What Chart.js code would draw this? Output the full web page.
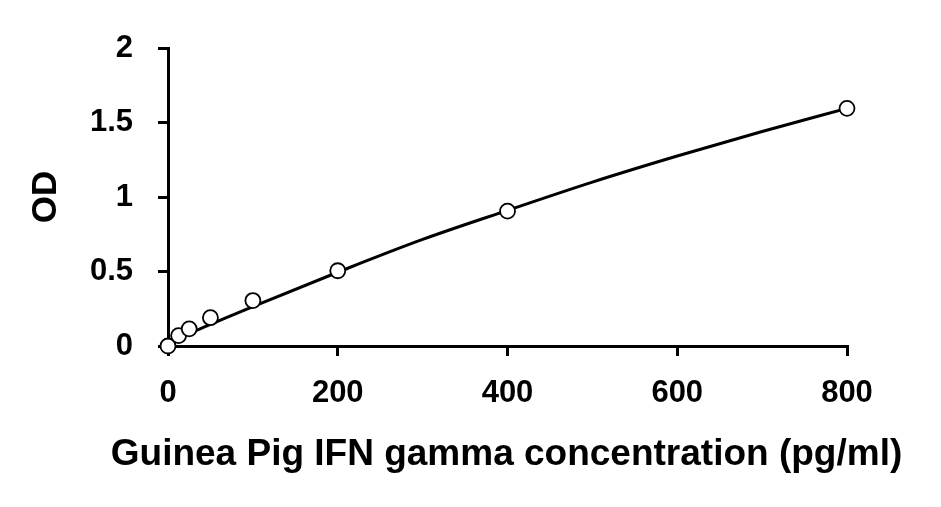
<!DOCTYPE html>
<html>
<head>
<meta charset="utf-8">
<script src="https://cdn.jsdelivr.net/npm/chart.js@4"></script>
<style>
html,body{margin:0;padding:0;background:#fff;}
#c{display:block;}
</style>
</head>
<body>
<canvas id="c" width="941" height="507"></canvas>
<script>
// Standard points (concentration pg/ml, OD)
const concentrations = [0, 12.5, 25, 50, 100, 200, 400, 800];
const odValues = [0.0, 0.07, 0.115, 0.19, 0.305, 0.505, 0.905, 1.595];
// Fitted curve
const curveX = [0, 12.5, 25, 50, 100, 200, 300, 400, 500, 600, 700, 800];
const curveY = [0.03, 0.06, 0.085, 0.145, 0.265, 0.495, 0.715, 0.91, 1.10, 1.275, 1.44, 1.595];
const xTicks = [0, 200, 400, 600, 800];
const yTicks = [0, 0.5, 1, 1.5, 2];

const FONT = "'Liberation Sans', Arial, sans-serif";

new Chart(document.getElementById('c'), {
  type: 'scatter',
  data: {
    datasets: [
      {
        label: 'Standards',
        data: concentrations.map((x, i) => ({x: x, y: odValues[i]})),
        pointRadius: 7.5,
        pointBorderWidth: 1.8,
        pointBorderColor: '#000',
        pointBackgroundColor: '#fff',
        showLine: false,
        clip: false,
        order: 0
      },
      {
        label: 'Fit',
        type: 'line',
        data: curveX.map((x, i) => ({x: x, y: curveY[i]})),
        borderColor: '#000',
        borderWidth: 3,
        pointRadius: 0,
        fill: false,
        clip: false,
        cubicInterpolationMode: 'monotone',
        order: 1
      }
    ]
  },
  options: {
    responsive: false,
    animation: false,
    layout: { padding: { left: 72, right: 0, top: 48, bottom: 0 } },
    plugins: {
      legend: { display: false },
      tooltip: { enabled: false },
      title: {
        display: true, position: 'bottom', fullSize: true,
        text: 'Guinea Pig IFN gamma concentration (pg/ml)', color: '#000',
        font: { family: FONT, size: 37, weight: 'bold', lineHeight: 1.2 },
        padding: { top: 0, bottom: 30 }
      }
    },
    scales: {
      x: {
        type: 'linear',
        min: 0, max: 800,
        afterBuildTicks: (s) => { s.ticks = xTicks.map(v => ({value: v})); },
        afterFit: (s) => { s.height = 86.6; },
        border: { display: true, color: '#000', width: 3 },
        grid: { display: true, drawOnChartArea: false, drawTicks: true, tickLength: 10, color: '#000', lineWidth: 3 },
        ticks: { color: '#000', padding: 19, font: { family: FONT, size: 31, weight: 'bold' }, maxRotation: 0,
                 callback: (v) => String(v) }
      },
      y: {
        type: 'linear',
        position: 'left',
        min: 0, max: 2,
        afterBuildTicks: (s) => { s.ticks = yTicks.map(v => ({value: v})); },
        afterFit: (s) => { s.width = 96; },
        border: { display: true, color: '#000', width: 3 },
        grid: { display: true, drawOnChartArea: false, drawTicks: true, tickLength: 10, color: '#000', lineWidth: 3 },
        ticks: { color: '#000', padding: 25, font: { family: FONT, size: 31, weight: 'bold' },
                 callback: (v) => String(v) },
        title: { display: true, text: 'OD', color: '#000',
                 font: { family: FONT, size: 35, weight: 'bold', lineHeight: 1.2 }, padding: { top: -47, bottom: 0 } }
      },
      spacer: {
        type: 'linear',
        axis: 'y',
        position: 'right',
        display: true,
        afterFit: (s) => { s.width = 94; },
        border: { display: false },
        grid: { display: false },
        ticks: { display: false }
      }
    }
  }
});
</script>
</body>
</html>
